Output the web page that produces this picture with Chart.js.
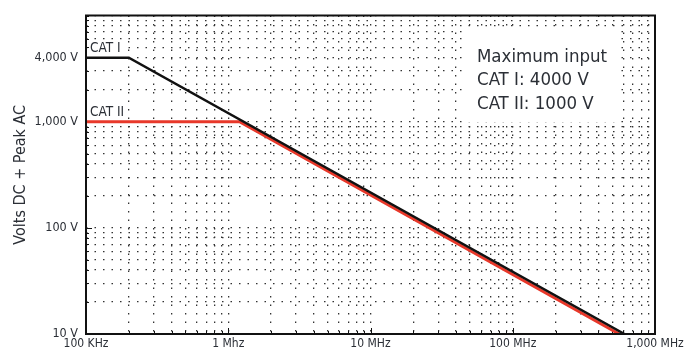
<!DOCTYPE html>
<html>
<head>
<meta charset="utf-8">
<script src="https://cdn.jsdelivr.net/npm/chart.js@4.4.0/dist/chart.umd.min.js"></script>
<style>
  html, body { margin: 0; padding: 0; background: #fff; }
  #wrap { width: 686px; height: 356px; }
</style>
</head>
<body>
<div id="wrap"><canvas id="myChart" width="686" height="356"></canvas></div>
<script>
// frequency (Hz) / volts
const cat1Freq = [1e5, 2e5, 6.1e8];
const cat1Volts = [4000, 4000, 10];
const cat2Freq = [1e5, 1.2e6, 5.6e8];
const cat2Volts = [1000, 1000, 10];

const xMajor = [1e5, 1e6, 1e7, 1e8, 1e9];
const xLabels = ['100 KHz', '1 Mhz', '10 MHz', '100 MHz', '1,000 MHz'];
const yMajor = [10, 100, 1000, 4000];
const yLabels = ['10 V', '100 V', '1,000 V', '4,000 V'];
const boxLines = ['Maximum input', 'CAT I: 4000 V', 'CAT II: 1000 V'];

const FONT = "'Liberation Sans Narrow', 'DejaVu Sans Condensed', 'Roboto', sans-serif";
const TEXT = '#2b2f36';

// grid positions 1..9 per decade
function logGrid(lo, hi) {
	const out = [];
	for (let d = lo; d < hi; d *= 10) {
		for (let m = 1; m < 10; m++) out.push(d * m);
	}
	out.push(hi);
	return out;
}
const xGrid = logGrid(1e5, 1e9);
const yGrid = logGrid(10, 10000);

const toPts = (xs, ys) => xs.map((x, i) => ({ x, y: ys[i] }));

const frame = {
	id: 'frame',
	beforeDatasetsDraw(chart) {
		const { ctx, chartArea: a, scales } = chart;
		ctx.save();
		// white patch behind the note
		ctx.fillStyle = '#fff';
		ctx.fillRect(468, 30, 150, 92);
		// inner tick marks
		ctx.strokeStyle = '#111';
		ctx.lineWidth = 1;
		xGrid.forEach(v => {
			const px = Math.round(scales.x.getPixelForValue(v)) + 0.5;
			const len = xMajor.includes(v) ? 6 : 3;
			ctx.beginPath();
			ctx.moveTo(px, a.bottom);
			ctx.lineTo(px, a.bottom - len);
			ctx.stroke();
		});
		yGrid.forEach(v => {
			const py = Math.round(scales.y.getPixelForValue(v)) + 0.5;
			const len = yMajor.includes(v) && v !== 4000 ? 6 : 3;
			ctx.beginPath();
			ctx.moveTo(a.left, py);
			ctx.lineTo(a.left + len, py);
			ctx.stroke();
		});
		ctx.restore();
	},
	afterDatasetsDraw(chart) {
		const { ctx, chartArea: a, scales } = chart;
		ctx.save();
		ctx.strokeStyle = '#111';
		ctx.lineWidth = 2;
		ctx.strokeRect(a.left, a.top, a.right - a.left, a.bottom - a.top);

		// series labels
		ctx.font = '13.5px ' + FONT;
		ctx.textBaseline = 'bottom';
		ctx.textAlign = 'left';
		[['CAT I', 4000], ['CAT II', 1000]].forEach(([t, v]) => {
			const py = scales.y.getPixelForValue(v);
			const w = ctx.measureText(t).width;
			ctx.fillStyle = '#fff';
			ctx.fillRect(a.left + 3, py - 17, w + 4, 14);
			ctx.fillStyle = TEXT;
			ctx.fillText(t, a.left + 4, py - 2);
		});

		// note
		ctx.font = '18.5px ' + FONT;
		ctx.fillStyle = TEXT;
		ctx.textBaseline = 'middle';
		boxLines.forEach((t, i) => ctx.fillText(t, 477, 57 + i * 23.5));
		ctx.restore();
	}
};

new Chart(document.getElementById('myChart').getContext('2d'), {
	type: 'line',
	data: {
		datasets: [
			{
				label: 'CAT I',
				data: toPts(cat1Freq, cat1Volts),
				borderColor: '#111111',
				borderWidth: 2.5,
				pointRadius: 0,
				order: 1
			},
			{
				label: 'CAT II',
				data: toPts(cat2Freq, cat2Volts),
				borderColor: '#e8382a',
				borderWidth: 3,
				pointRadius: 0,
				order: 2
			}
		]
	},
	options: {
		responsive: false,
		animation: false,
		layout: { padding: { top: 11, right: 31, left: 0, bottom: 0 } },
		plugins: {
			legend: { display: false },
			tooltip: { enabled: false }
		},
		scales: {
			x: {
				type: 'logarithmic',
				min: 1e5,
				max: 1e9,
				afterBuildTicks: s => { s.ticks = xGrid.map(value => ({ value })); },
				afterFit: s => {
					s.height = 22;
					s.paddingLeft = 0;
					s.paddingRight = 20;
				},
				ticks: {
					autoSkip: false,
					maxRotation: 0,
					padding: 3,
					color: TEXT,
					font: { family: FONT, size: 12 },
					callback: v => {
						const i = xMajor.indexOf(v);
						return i < 0 ? '' : xLabels[i];
					}
				},
				grid: { color: '#333', lineWidth: 1.3, drawTicks: false },
				border: { display: false, dash: [1.5, 7] }
			},
			y: {
				type: 'logarithmic',
				min: 10,
				max: 10000,
				afterBuildTicks: s => { s.ticks = yGrid.map(value => ({ value })); },
				afterFit: s => { s.width = 86; },
				ticks: {
					autoSkip: false,
					padding: 8,
					color: TEXT,
					font: { family: FONT, size: 12.5 },
					callback: v => {
						const i = yMajor.indexOf(v);
						return i < 0 ? '' : yLabels[i];
					}
				},
				title: {
					display: true,
					text: 'Volts DC + Peak AC',
					color: TEXT,
					font: { family: FONT, size: 16 },
					padding: { top: 11, bottom: 0 }
				},
				grid: { color: '#333', lineWidth: 1.3, drawTicks: false },
				border: { display: false, dash: [1.5, 7] }
			}
		}
	},
	plugins: [frame]
});
</script>
</body>
</html>
